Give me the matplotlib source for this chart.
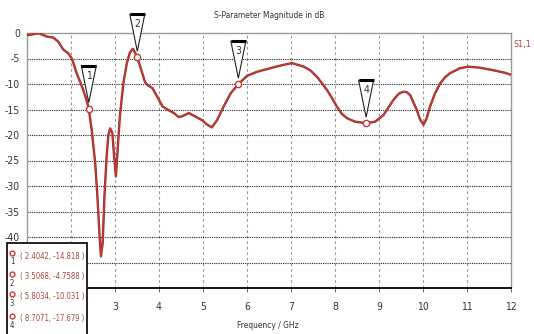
import matplotlib
matplotlib.use('Agg')
import matplotlib.pyplot as plt
import matplotlib.transforms as mtransforms
from matplotlib.patches import Polygon, Rectangle
import numpy as np

# S11 magnitude (dB) vs frequency (GHz)
freq = [1.00, 1.11, 1.26, 1.37, 1.45, 1.60, 1.71, 1.82, 1.94, 2.02, 2.13, 2.25, 2.33,
        2.4042, 2.47, 2.55, 2.60, 2.65, 2.68, 2.72, 2.76, 2.81, 2.85, 2.89, 2.94, 2.98,
        3.02, 3.05, 3.11, 3.19, 3.27, 3.34, 3.41, 3.5068, 3.61, 3.68, 3.74, 3.85, 3.96,
        4.08, 4.19, 4.34, 4.45, 4.53, 4.68, 4.83, 4.98, 5.10, 5.20, 5.32, 5.47, 5.63,
        5.8034, 6.00, 6.23, 6.53, 6.80, 7.02, 7.29, 7.45, 7.59, 7.70, 7.82, 7.95, 8.04,
        8.15, 8.27, 8.46, 8.7071, 8.91, 9.10, 9.20, 9.33, 9.45, 9.56, 9.63, 9.71, 9.86,
        9.93, 10.01, 10.08, 10.16, 10.27, 10.39, 10.50, 10.61, 10.84, 11.03, 11.29,
        11.60, 11.86, 12.00]
s11 = [-0.4, -0.3, -0.05, -0.4, -0.7, -0.9, -1.7, -3.2, -4.0, -5.0, -7.9, -10.5, -12.5,
       -14.818, -19.0, -25.5, -32.0, -39.9, -43.8, -41.2, -32.0, -24.2, -20.0, -18.7, -19.6,
       -24.2, -28.1, -24.2, -16.4, -9.8, -5.9, -3.8, -3.1, -4.7588, -7.6, -9.6, -10.2,
       -10.8, -12.5, -14.4, -15.0, -15.7, -16.5, -16.3, -15.7, -16.4, -17.1, -18.0, -18.5,
       -17.1, -14.4, -11.8, -10.031, -8.4, -7.6, -6.9, -6.3, -5.9, -6.6, -7.4, -8.6, -9.8,
       -11.2, -13.0, -14.4, -15.8, -16.7, -17.4, -17.679, -17.4, -16.1, -14.8, -13.1,
       -11.9, -11.5, -11.6, -12.2, -15.1, -16.9, -18.0, -16.8, -14.4, -11.9, -9.9, -8.7,
       -7.9, -6.9, -6.6, -6.8, -7.3, -7.8, -8.2]

marker_ids = [1, 2, 3, 4]
marker_f = [2.4042, 3.5068, 5.8034, 8.7071]
marker_db = [-14.818, -4.7588, -10.031, -17.679]
marker_txt = ['( 2.4042, -14.818 )', '( 3.5068, -4.7588 )',
              '( 5.8034, -10.031 )', '( 8.7071, -17.679 )']

xticks = list(range(1, 13))
yticks = list(range(0, -50, -5))
# -45 sits under the marker readout box, so its label is left blank
ytick_labels = [str(y) if y != -45 else '' for y in yticks]

curve_col = '#c23c36'
text_col = '#a8453f'
plt.rcParams['font.family'] = ['DejaVu Sans']
plt.rcParams['font.stretch'] = 'condensed'

fig = plt.figure(figsize=(5.34, 3.34), dpi=100)
W, H = 534, 334
ax = fig.add_axes([27 / W, 46 / H, (511 - 27) / W, (288 - 33) / H])
ax.set_xlim(1, 12)
ax.set_ylim(-50, 0)

for x in xticks[1:-1]:
    ax.axvline(x, color='#9a9a9a', lw=0.8, ls=(0, (2.5, 2.5)), zorder=1)
for y in yticks[1:]:
    ax.axhline(y, color='#222222', lw=0.8, ls=(0, (1, 1)), zorder=1)

ax.plot(freq, s11, color='#962c28', lw=1.7, zorder=3, solid_joinstyle='round')
ax.plot(freq, s11, color=curve_col, lw=0.9, zorder=3, solid_joinstyle='round')

ax.plot(marker_f, marker_db, ls='none', marker='o', ms=4.5, mfc='white',
        mec=curve_col, mew=1.0, zorder=4)

# triangular marker flags above each marker point (pixel offsets)
for mid, f, db in zip(marker_ids, marker_f, marker_db):
    tr = mtransforms.ScaledTranslation(f, db, ax.transData)
    tri = Polygon([[-7.5, 43], [7.5, 43], [0, 6]], closed=True, facecolor='white',
                  edgecolor='#222222', lw=0.8, transform=tr, zorder=5, clip_on=False)
    ax.add_patch(tri)
    ax.plot([-7.5, 7.5], [43, 43], color='black', lw=2.2, transform=tr,
            zorder=6, clip_on=False, solid_capstyle='butt')
    ax.text(0, 33, str(mid), ha='center', va='center', fontsize=7.5,
            color='#333333', transform=tr, zorder=6)

for side in ['top', 'right', 'left']:
    ax.spines[side].set_color('#9a9a9a')
    ax.spines[side].set_linewidth(1.0)
ax.spines['bottom'].set_color('black')
ax.spines['bottom'].set_linewidth(1.3)

ax.set_xticks(xticks)
ax.set_yticks(yticks)
ax.tick_params(axis='x', length=3, width=0.6, color='#555555', pad=7,
               labelsize=7.5, labelcolor='#333333')
ax.tick_params(axis='y', length=0, pad=5, labelsize=7.5, labelcolor='#333333')
ax.set_xticklabels([str(x) for x in xticks])
ax.set_yticklabels(ytick_labels)

fig.text(269 / W, 1 - 16 / H, 'S-Parameter Magnitude in dB', ha='center',
         va='center', fontsize=6, color='#333333')
fig.text(268 / W, 1 - 325 / H, 'Frequency / GHz', ha='center', va='center',
         fontsize=6, color='#333333')
fig.text(522 / W, 1 - 45 / H, 'S1,1', ha='center', va='center', fontsize=6.5,
         color=text_col)

# marker readout box in the lower left corner
box = Rectangle((7 / W, -0.02), 80 / W, (334 - 243) / H + 0.02, transform=fig.transFigure,
                facecolor='white', edgecolor='#111111', lw=1.3, zorder=10)
fig.patches.append(box)
row_y = [256, 277, 297, 319]
for mid, txt, ry in zip(marker_ids, marker_txt, row_y):
    fig.add_artist(plt.Line2D([12 / W], [1 - (ry - 3) / H], marker='o', ms=3.5,
                              mfc='white', mec=curve_col, mew=1.0, ls='none',
                              transform=fig.transFigure, zorder=11))
    fig.text(12 / W, 1 - (ry + 6) / H, str(mid), ha='center', va='center',
             fontsize=5.5, color='#333333', zorder=11)
    fig.text(20 / W, 1 - ry / H, txt, ha='left', va='center',
             fontsize=5.5, color=text_col, zorder=11)

fig.savefig('out.png', dpi=100)
